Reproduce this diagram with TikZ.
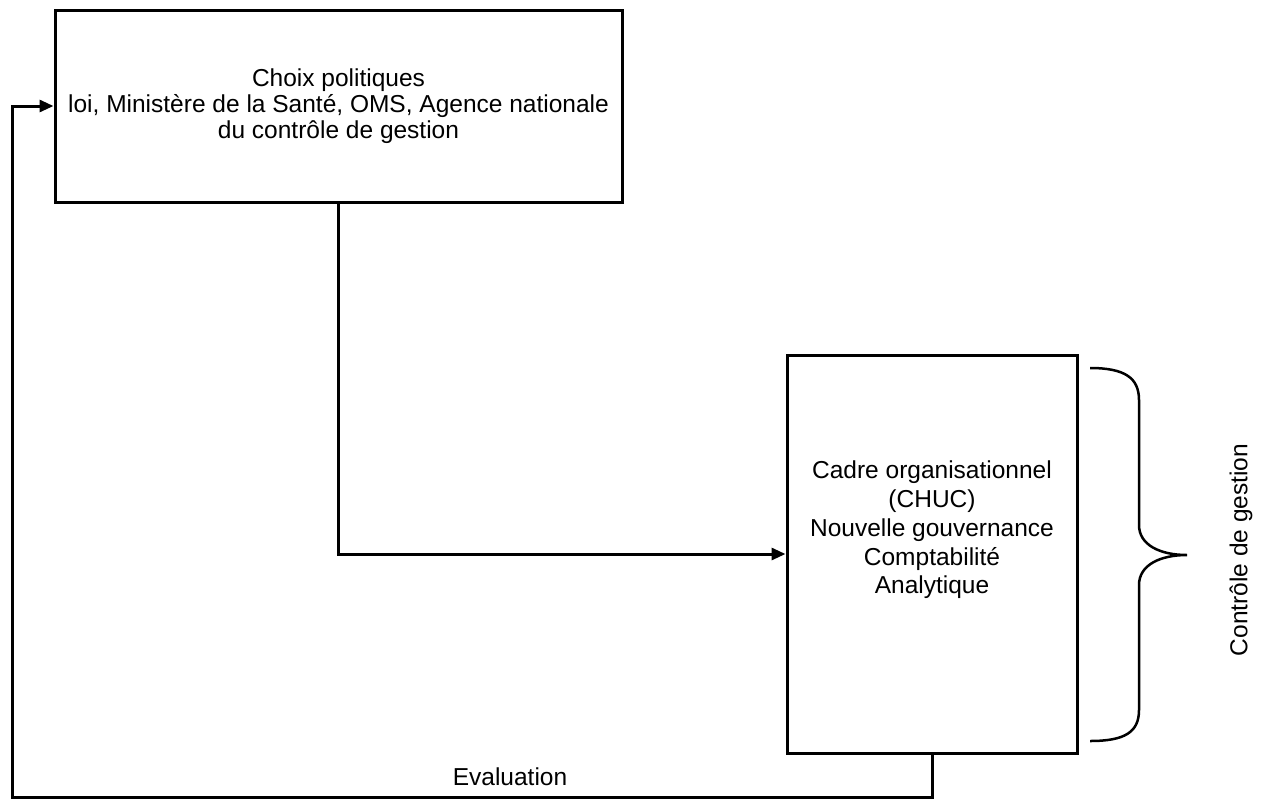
\documentclass[tikz,border=0pt]{standalone}
\usepackage{fontspec}
\setmainfont{Liberation Sans}
\usetikzlibrary{positioning, arrows.meta}

\begin{document}
\begin{tikzpicture}[x=1pt, y=-1pt,
  box/.style={draw, rectangle, line width=3pt, inner sep=0pt, align=center},
  link/.style={line width=3pt, -{Triangle[length=14pt, width=12pt]}},
  every node/.style={font=\fontsize{24.5}{26}\selectfont}]

  \useasboundingbox (0,0) rectangle (1268,798);

  \node [box, minimum width=567pt, minimum height=192pt] (A) at (338.5,106)
    {Choix politiques\\loi, Ministère de la Santé, OMS, Agence nationale\\du contrôle de gestion};
  \node [box, minimum width=290pt, minimum height=398pt] (B) at (932,554) {};
  \node [align=center, font=\fontsize{24.5}{28.7}\selectfont] (Btext) at (932,530)
    {Cadre organisationnel\\(CHUC)\\Nouvelle gouvernance\\Comptabilité\\Analytique};

  \coordinate (F) at (12,797);
  \node (eval) at (510,777) {Evaluation};
  \node [rotate=90] (ctrl) at (1241,550) {Contrôle de gestion};

  \draw [link] (A.south) |- (B.west);
  \draw [link] (B.south) |- (F) |- (A.west);

  % accolade
  \draw [line width=2.5pt] (1090,368) .. controls (1125,368) and (1139,378) .. (1139,400)
    -- (1139,525) .. controls (1139,545) and (1160,555) .. (1187,555)
    .. controls (1160,555) and (1139,565) .. (1139,585)
    -- (1139,710) .. controls (1139,732) and (1125,741) .. (1090,741);
\end{tikzpicture}
\end{document}
